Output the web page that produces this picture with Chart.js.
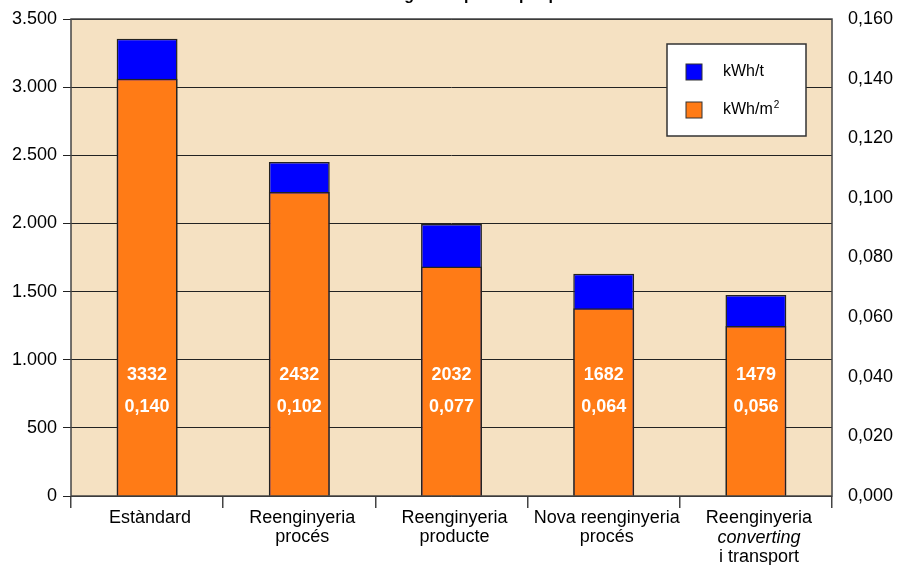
<!DOCTYPE html>
<html>
<head>
<meta charset="utf-8">
<script src="https://cdn.jsdelivr.net/npm/chart.js@4/dist/chart.umd.min.js"></script>
<style>
  body { margin: 0; background: #fff; }
  #wrap { width: 897px; height: 565px; }
</style>
</head>
<body>
<div id="wrap"><canvas id="chart" width="897" height="565"></canvas></div>
<script>
// categories (multi-line), the second line of the last one is in italics
var categories = [
  ['Estàndard'],
  ['Reenginyeria', 'procés'],
  ['Reenginyeria', 'producte'],
  ['Nova reenginyeria', 'procés'],
  ['Reenginyeria', 'converting', 'i transport']
];
var italicLines = [[], [], [], [], [1]];

// bar heights
var kwhPerTona = [3355, 2450, 1995, 1630, 1475];   // left axis
var kwhPerM2 = [0.140, 0.102, 0.077, 0.063, 0.057]; // right axis

// printed labels inside the bars
var labelsTona = ['3332', '2432', '2032', '1682', '1479'];
var labelsM2 = ['0,140', '0,102', '0,077', '0,064', '0,056'];

var leftMax = 3500, leftStep = 500;
var rightMax = 0.16, rightStep = 0.02;

var titleText = 'Consum energètic específic per procés';
var FONT = '"Liberation Sans", Arial, sans-serif';
var ORANGE = '#FF7B16';
var BLUE = '#0000FF';

function thousands(v) {
  return String(v).replace(/\B(?=(\d{3})+(?!\d))/g, '.');
}

// keep the y axes from pushing the plot area down
function noPad(s) {
  s.paddingTop = 0;
  s.paddingBottom = 0;
}

var decorPlugin = {
  id: 'decor',
  beforeDraw: function(chart) {
    var ctx = chart.ctx, a = chart.chartArea;
    ctx.save();
    ctx.fillStyle = '#F5E1C2';
    ctx.fillRect(a.left, a.top, a.right - a.left, a.bottom - a.top);
    // title, cut off at the top edge: only descenders show
    ctx.fillStyle = '#000';
    ctx.font = 'bold 16px ' + FONT;
    ctx.textAlign = 'center';
    ctx.textBaseline = 'alphabetic';
    ctx.fillText(titleText, (a.left + a.right) / 2, 0);
    ctx.restore();
  },
  afterDatasetsDraw: function(chart) {
    var ctx = chart.ctx, a = chart.chartArea;
    var meta = chart.getDatasetMeta(0);
    ctx.save();
    ctx.fillStyle = '#fff';
    ctx.font = 'bold 18px ' + FONT;
    ctx.textAlign = 'center';
    ctx.textBaseline = 'middle';
    meta.data.forEach(function(bar, i) {
      ctx.fillText(labelsTona[i], bar.x, a.bottom - 121);
      ctx.fillText(labelsM2[i], bar.x, a.bottom - 89);
    });
    ctx.restore();
  },
  afterDraw: function(chart) {
    var ctx = chart.ctx, a = chart.chartArea;
    var xs = chart.scales.x;
    ctx.save();
    // plot frame
    ctx.strokeStyle = '#444';
    ctx.lineWidth = 1.5;
    ctx.strokeRect(a.left, a.top, a.right - a.left, a.bottom - a.top);

    // category labels
    ctx.fillStyle = '#000';
    ctx.textAlign = 'center';
    ctx.textBaseline = 'middle';
    categories.forEach(function(lines, i) {
      var x = xs.getPixelForValue(i) + 3;
      lines.forEach(function(line, j) {
        var it = italicLines[i].indexOf(j) >= 0 ? 'italic ' : '';
        ctx.font = it + '18px ' + FONT;
        ctx.fillText(line, x, a.bottom + 22 + j * 19.5);
      });
    });

    // legend box
    var lx = 667, ly = 44, lw = 139, lh = 92;
    ctx.fillStyle = '#fff';
    ctx.fillRect(lx, ly, lw, lh);
    ctx.strokeStyle = '#333';
    ctx.lineWidth = 1.5;
    ctx.strokeRect(lx, ly, lw, lh);
    var items = [[BLUE, 'kWh/t', 72], [ORANGE, 'kWh/m', 110]];
    items.forEach(function(it) {
      ctx.fillStyle = it[0];
      ctx.fillRect(686, it[2] - 8, 16, 16);
      ctx.strokeStyle = '#333';
      ctx.lineWidth = 1;
      ctx.strokeRect(686, it[2] - 8, 16, 16);
      ctx.fillStyle = '#000';
      ctx.font = '16px ' + FONT;
      ctx.textAlign = 'left';
      ctx.textBaseline = 'middle';
      ctx.fillText(it[1], 723, it[2]);
    });
    var w = ctx.measureText('kWh/m').width;
    ctx.font = '10px ' + FONT;
    ctx.fillText('2', 723 + w + 1, 105);
    ctx.restore();
  }
};

var ctx = document.getElementById('chart');
new Chart(ctx, {
  type: 'bar',
  data: {
    labels: categories,
    datasets: [
      {
        label: 'kWh/m²',
        data: kwhPerM2,
        yAxisID: 'y1',
        backgroundColor: ORANGE,
        borderColor: '#222',
        borderWidth: 1.5,
        grouped: false,
        barPercentage: 0.4,
        categoryPercentage: 1
      },
      {
        label: 'kWh/t',
        data: kwhPerTona,
        yAxisID: 'y',
        backgroundColor: BLUE,
        borderColor: '#222',
        borderWidth: 1.5,
        grouped: false,
        barPercentage: 0.4,
        categoryPercentage: 1
      }
    ]
  },
  options: {
    responsive: false,
    animation: false,
    layout: { padding: { top: 19, left: 0, right: 0, bottom: 0 } },
    plugins: {
      legend: { display: false },
      tooltip: { enabled: false },
      title: { display: false }
    },
    scales: {
      x: {
        offset: true,
        grid: { drawOnChartArea: false, drawTicks: true, tickLength: 12, color: '#444', lineWidth: 1.5 },
        border: { display: false },
        ticks: { display: false },
        afterFit: function(s) { s.height = 69; }
      },
      y: {
        position: 'left',
        min: 0,
        max: leftMax,
        grid: { color: '#222', lineWidth: 1, tickLength: 8 },
        border: { display: false },
        ticks: {
          stepSize: leftStep,
          padding: 6,
          color: '#000',
          font: { family: FONT, size: 18 },
          callback: function(v) { return thousands(v); }
        },
        afterFit: function(s) { s.width = 71; noPad(s); }
      },
      y1: {
        position: 'right',
        min: 0,
        max: rightMax,
        grid: { display: false, drawTicks: false },
        border: { display: false },
        ticks: {
          stepSize: rightStep,
          padding: 16,
          color: '#000',
          font: { family: FONT, size: 18 },
          callback: function(v) { return v.toFixed(3).replace('.', ','); }
        },
        afterFit: function(s) { s.width = 65; noPad(s); }
      }
    }
  },
  plugins: [decorPlugin]
});
</script>
</body>
</html>
